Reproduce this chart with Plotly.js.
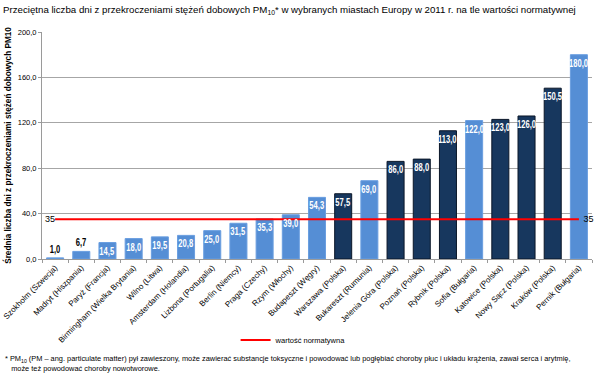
<!DOCTYPE html>
<html>
<head>
<meta charset="utf-8">
<script src="https://cdn.plot.ly/plotly-3.0.1.min.js"></script>
<style>html,body{margin:0;padding:0;background:#fff}#chart{width:600px;height:378px}</style>
</head>
<body>
<div id="chart"></div>
<script>
const categories = ["Szokholm (Szwecja)","Madryt (Hiszpania)","Paryż (Francja)","Birmingham (Wielka Brytania)","Wilno (Litwa)","Amsterdam (Holandia)","Lizbona (Portugalia)","Berlin (Niemcy)","Praga (Czechy)","Rzym (Włochy)","Budapeszt (Węgry)","Warszawa (Polska)","Bukareszt (Rumunia)","Jelenia Góra (Polska)","Poznań (Polska)","Rybnik (Polska)","Sofia (Bułgaria)","Katowice (Polska)","Nowy Sącz (Polska)","Kraków (Polska)","Pernik (Bułgaria)"];
const values = [1.0, 6.7, 14.5, 18.0, 19.5, 20.8, 25.0, 31.5, 35.3, 39.0, 54.3, 57.5, 69.0, 86.0, 88.0, 113.0, 122.0, 123.0, 126.0, 150.5, 180.0];
const isPolish = [false,false,false,false,false,false,false,false,false,false,false,true,false,true,true,true,false,true,true,true,false];
const normValue = 35;
const normName = "wartość normatywna";
const yTicks = [0, 40, 80, 120, 160, 200];

const FONT = "'Liberation Sans', Arial, sans-serif";
const light = '#558ED5', lightLine = '#6A9EE0';
const dark = '#17375E', darkLine = '#0A1628';

const fmt = v => v.toFixed(1).replace('.', ',');

const bars = {
  type: 'bar', x: categories, y: values,
  marker: {color: isPolish.map(p => p ? dark : light),
           line: {color: isPolish.map(p => p ? darkLine : lightLine), width: 1}},
  showlegend: false, hoverinfo: 'x+y'
};
const norm = {
  type: 'scatter', mode: 'lines+text', name: normName,
  x: [categories[0], categories[categories.length-1]], y: [normValue, normValue],
  line: {color: '#FF0000', width: 2},
  text: [String(normValue), '\u2002' + String(normValue)], textposition: ['middle left', 'middle right'],
  textfont: {family: FONT, size: 9, color: '#000'}, cliponaxis: false
};

const valueLabels = values.map((v, i) => {
  const inside = v >= 10;
  return {
    xref: 'x', yref: 'y', x: categories[i], y: v, showarrow: false,
    yanchor: inside ? 'top' : 'bottom', yshift: inside ? -1 : 1,
    text: '<b>' + fmt(v) + '</b>', captureevents: false,
    font: {family: FONT, size: 10, color: inside ? '#fff' : '#000'}
  };
});

const layout = {
  width: 600, height: 378,
  margin: {l: 42, r: 8, t: 32, b: 119},
  paper_bgcolor: '#fff', plot_bgcolor: '#fff',
  separators: ', ',
  font: {family: FONT, size: 9, color: '#000'},
  title: {text: 'Przeciętna liczba dni z przekroczeniami stężeń dobowych PM<sub>10</sub>* w wybranych miastach Europy w 2011 r. na tle wartości normatywnej',
          font: {family: FONT, size: 9.7, color: '#000'}, x: 0.005, xanchor: 'left', xref: 'container',
          y: 0.975, yanchor: 'middle', yref: 'container'},
  bargap: 0.35,
  xaxis: {type: 'category', range: [-0.5, categories.length - 0.5], tickangle: -45, tickfont: {family: FONT, size: 8, color: '#000'},
          showline: true, linecolor: '#9a9a9a', linewidth: 1, ticks: 'outside', ticklen: 3, tickcolor: '#9a9a9a',
          tickson: 'boundaries', showgrid: false, automargin: false},
  yaxis: {range: [0, 200], tickvals: yTicks, tickformat: '.1f', tickfont: {family: FONT, size: 7.5, color: '#000'},
          showline: true, linecolor: '#9a9a9a', linewidth: 1, ticks: 'outside', ticklen: 3, tickcolor: '#9a9a9a',
          showgrid: true, gridcolor: '#a6a6a6', gridwidth: 1, zeroline: false, automargin: false,
          title: {text: '<b>Średnia liczba dni z przekroczeniami stężeń dobowych PM10</b>', font: {family: FONT, size: 8.2, color: '#000'}, standoff: 4}},
  showlegend: true,
  legend: {orientation: 'h', x: 0.352, xanchor: 'left', y: -0.357, yanchor: 'middle',
           font: {family: FONT, size: 7.5, color: '#000'}, itemwidth: 30, bgcolor: 'rgba(0,0,0,0)'},
  annotations: valueLabels.concat([{
    xref: 'paper', yref: 'paper', x: -0.071, y: -0.462, xanchor: 'left', yanchor: 'middle', align: 'left', showarrow: false,
    text: '* PM<sub>10</sub> (PM – ang. particulate matter) pył zawieszony, może zawierać substancje toksyczne i powodować lub pogłębiać choroby płuc i układu krążenia, zawał serca i arytmię,<br>   może też powodować choroby nowotworowe.',
    font: {family: FONT, size: 7.4, color: '#000'}
  }])
};
Plotly.newPlot('chart', [bars, norm], layout, {displayModeBar: false, staticPlot: true}).then(gd => {
  // condense the value labels to mimic the narrow typeface of the original
  const anns = gd.querySelectorAll('.annotation');
  anns.forEach((a, idx) => {
    if (idx >= values.length) return;
    const t = a.querySelector('.annotation-text');
    if (!t) return;
    const w = t.getComputedTextLength();
    if (w > 0) {
      t.setAttribute('textLength', (w * 0.76).toFixed(2));
      t.setAttribute('lengthAdjust', 'spacingAndGlyphs');
    }
  });
});
</script>
</body>
</html>
